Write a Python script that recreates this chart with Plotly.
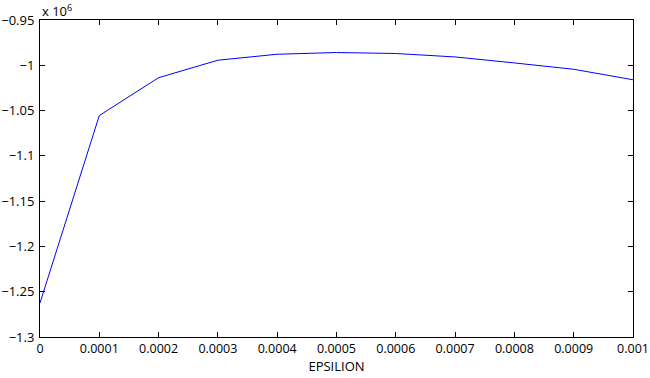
import plotly.graph_objects as go

epsilon = [0, 0.0001, 0.0002, 0.0003, 0.0004, 0.0005, 0.0006, 0.0007, 0.0008, 0.0009, 0.001]
value = [-1262400, -1055500, -1013700, -994400, -987800, -985900, -987000, -990800, -997400, -1004400, -1016000]

x_ticks = [0, 0.0001, 0.0002, 0.0003, 0.0004, 0.0005, 0.0006, 0.0007, 0.0008, 0.0009, 0.001]
x_labels = ["0", "0.0001", "0.0002", "0.0003", "0.0004", "0.0005", "0.0006", "0.0007", "0.0008", "0.0009", "0.001"]
y_ticks = [-1.3e6, -1.25e6, -1.2e6, -1.15e6, -1.1e6, -1.05e6, -1.0e6, -0.95e6]
y_labels = ["\u22121.3", "\u22121.25", "\u22121.2", "\u22121.15", "\u22121.1", "\u22121.05", "\u22121", "\u22120.95"]

font = dict(family="Open Sans, Liberation Sans, sans-serif", size=13, color="black")
xfont = dict(family="Open Sans, Liberation Sans, sans-serif", size=12.5, color="black")

fig = go.Figure()
fig.add_trace(go.Scatter(x=epsilon, y=value, mode="lines",
                         line=dict(color="#0000ff", width=1), showlegend=False))

axis_common = dict(showline=True, linecolor="black", linewidth=1, mirror="ticks",
                   ticks="inside", ticklen=5, tickcolor="black", showgrid=False,
                   zeroline=False, automargin=False, ticklabeloverflow="allow")

fig.update_layout(
    width=650, height=378,
    margin=dict(l=40, r=17, t=20, b=41),
    paper_bgcolor="white", plot_bgcolor="white",
    font=font,
    xaxis=dict(range=[0, 0.00100001], tickvals=x_ticks, ticktext=x_labels, tickfont=xfont,
               title=dict(text="EPSILION", font=font, standoff=2), **axis_common),
    yaxis=dict(range=[-1.3e6, -0.95e6], tickvals=y_ticks, ticktext=y_labels, tickfont=font,
               ticklabelstandoff=2, **axis_common),
    annotations=[dict(text="x 10<sup>6</sup>", x=0, y=1, xref="paper", yref="paper",
                      xanchor="left", yanchor="bottom", showarrow=False, font=font,
                      yshift=-2)],
)

fig.write_html("out.html")
